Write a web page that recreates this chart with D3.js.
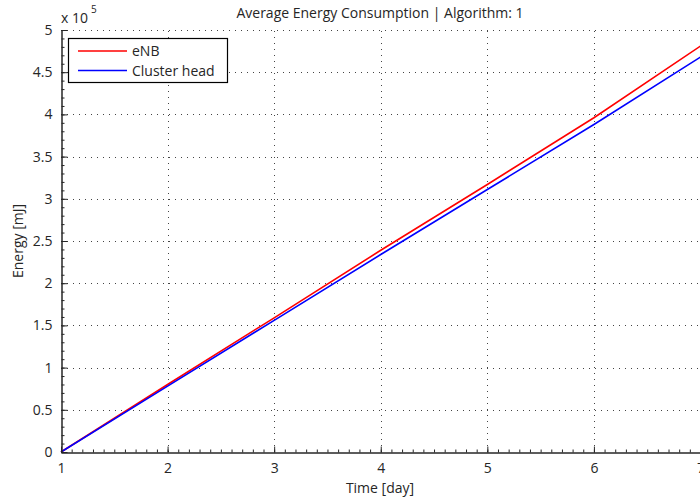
<!DOCTYPE html>
<html><head><meta charset="utf-8">
<script src="https://cdn.jsdelivr.net/npm/d3@7"></script>
<style>body{margin:0;background:#fff}svg{display:block}</style>
</head><body>
<svg id="c" width="700" height="499"></svg>
<script>
const days = [1, 2, 3, 4, 5, 6, 7];
const enb = [0, 0.80e5, 1.59e5, 2.39e5, 3.17e5, 3.96e5, 4.81e5];
const clusterHead = [0, 0.78e5, 1.56e5, 2.34e5, 3.11e5, 3.88e5, 4.68e5];
const xTicks = [1, 2, 3, 4, 5, 6, 7];
const yTicks = [0, 0.5, 1, 1.5, 2, 2.5, 3, 3.5, 4, 4.5, 5];
const yTickLabels = ["0", "0.5", "1", "1.5", "2", "2.5", "3", "3.5", "4", "4.5", "5"];
const seriesNames = ["eNB", "Cluster head"];
const seriesColors = ["#ff0000", "#0000ff"];

const svg = d3.select("#c");
const L = 61, R = 700.5, T = 30, B = 452;
const x = d3.scaleLinear().domain([1, 7]).range([L, R]);
const y = d3.scaleLinear().domain([0, 5]).range([B, T]);
const font = "'Open Sans', 'DejaVu Sans', sans-serif";
const ink = "#262626";

// grid
const g = svg.append("g");
xTicks.filter(d => d > 1 && d < 7).forEach(d => {
  g.append("line").attr("x1", Math.round(x(d)) + 0.5).attr("x2", Math.round(x(d)) + 0.5)
    .attr("y1", B).attr("y2", T).attr("stroke", "#444").attr("stroke-width", 1)
    .attr("stroke-dasharray", "1,5");
});
yTicks.filter(d => d > 0).forEach(d => {
  g.append("line").attr("x1", L).attr("x2", R)
    .attr("y1", Math.round(y(d)) + 0.5).attr("y2", Math.round(y(d)) + 0.5)
    .attr("stroke", "#444").attr("stroke-width", 1)
    .attr("stroke-dasharray", "1,5");
});

// lines
const series = [enb, clusterHead];
const line = d3.line().x((d, i) => x(days[i])).y(d => y(d / 1e5));
series.forEach((s, k) => {
  svg.append("path").datum(s).attr("d", line).attr("fill", "none")
    .attr("stroke", seriesColors[k]).attr("stroke-width", 1.6);
});

// axes
const xAxis = d3.axisBottom(x).tickValues(xTicks).tickSizeInner(-6).tickSizeOuter(0).tickPadding(11).tickFormat(d3.format("d"));
const xa = svg.append("g").attr("transform", `translate(0,${B + 0.5})`).call(xAxis);
const xMinor = d3.range(10, 71).map(v => v / 10);
const xm = svg.append("g").attr("transform", `translate(0,${B + 0.5})`)
  .call(d3.axisBottom(x).tickValues(xMinor).tickSizeInner(-3).tickSizeOuter(0).tickFormat(""));
const yAxis = d3.axisLeft(y).tickValues(yTicks).tickSizeInner(-6).tickSizeOuter(0).tickPadding(9).tickFormat((d, i) => yTickLabels[i]);
const ya = svg.append("g").attr("transform", `translate(${L + 0.5},0)`).call(yAxis);
const yMinor = d3.range(0, 51).map(v => v / 10);
const ym = svg.append("g").attr("transform", `translate(${L + 0.5},0)`)
  .call(d3.axisLeft(y).tickValues(yMinor).tickSizeInner(-3).tickSizeOuter(0).tickFormat(""));
[xa, xm, ya, ym].forEach(a => {
  a.selectAll("path,line").attr("stroke", ink);
  a.selectAll("text").attr("fill", ink).style("font-family", font).style("font-size", "14px");
  a.select(".domain").attr("stroke-width", 1);
});
xa.selectAll("text").attr("dy", "0.71em");

// exponent label
const ex = svg.append("text").attr("x", 61).attr("y", 23).attr("fill", ink)
  .style("font-family", font).style("font-size", "14px");
ex.append("tspan").text("x 10");
ex.append("tspan").attr("dx", 3).attr("dy", -10).style("font-size", "10px").text("5");

// title and labels
svg.append("text").attr("x", 380).attr("y", 18).attr("text-anchor", "middle").attr("fill", ink)
  .style("font-family", font).style("font-size", "14px").text("Average Energy Consumption | Algorithm: 1");
svg.append("text").attr("x", 380).attr("y", 493).attr("text-anchor", "middle").attr("fill", ink)
  .style("font-family", font).style("font-size", "14px").text("Time [day]");
svg.append("text").attr("transform", "translate(23,241) rotate(-90)").attr("text-anchor", "middle").attr("fill", ink)
  .style("font-family", font).style("font-size", "14px").text("Energy [mJ]");

// legend
const lg = svg.append("g");
lg.append("rect").attr("x", 68.5).attr("y", 38.5).attr("width", 159).attr("height", 44)
  .attr("fill", "#fff").attr("stroke", "#000").attr("stroke-width", 1.2);
seriesNames.forEach((n, k) => {
  const yy = 51 + k * 19.5;
  lg.append("line").attr("x1", 78).attr("x2", 127).attr("y1", yy).attr("y2", yy)
    .attr("stroke", seriesColors[k]).attr("stroke-width", 1.6);
  lg.append("text").attr("x", 132).attr("y", yy + 5).attr("fill", ink)
    .style("font-family", font).style("font-size", "14px").text(n);
});
</script>
</body></html>
